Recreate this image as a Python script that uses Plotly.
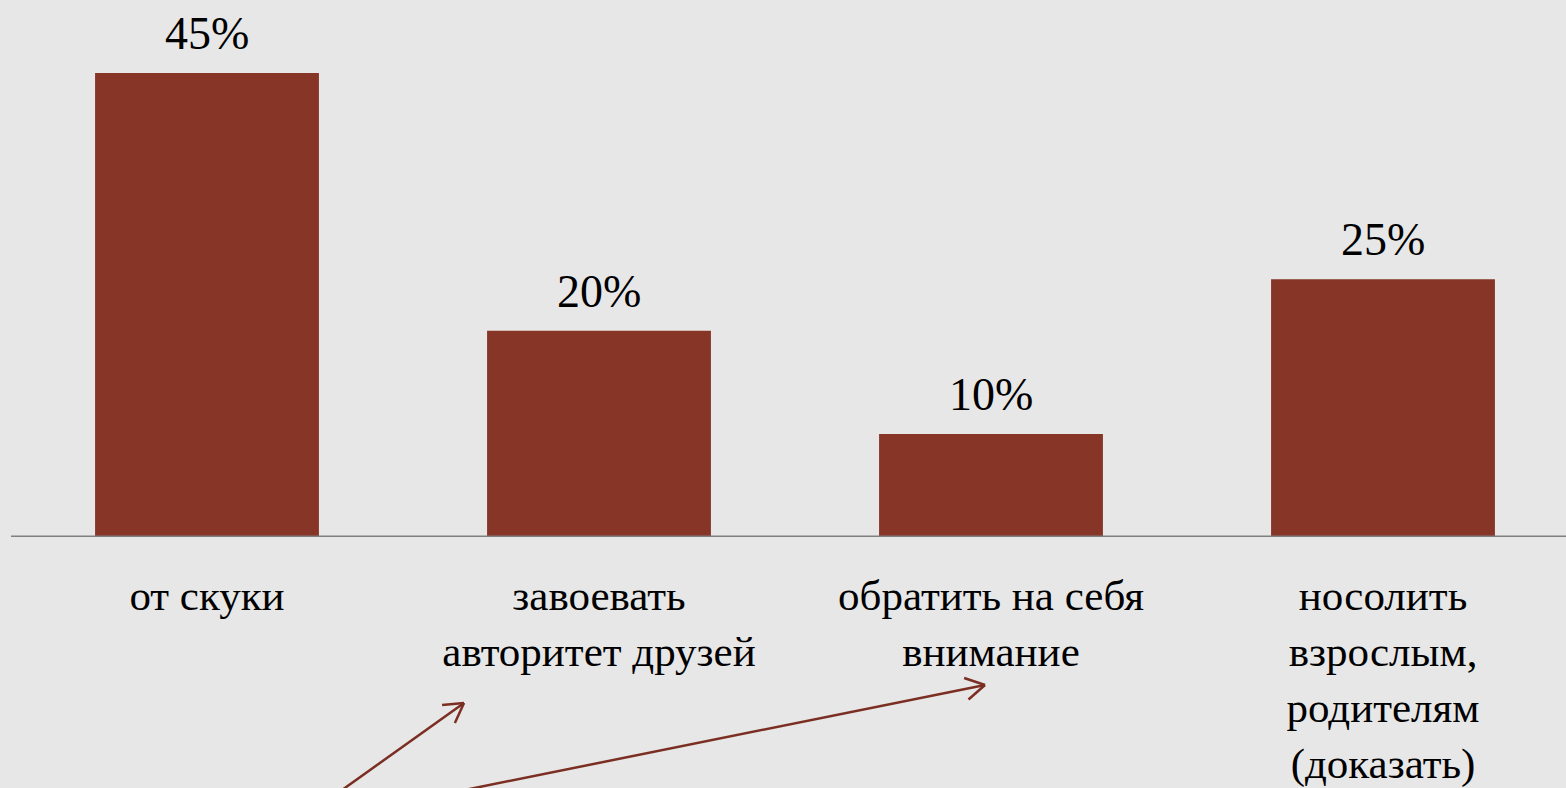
import plotly.graph_objects as go
import math

categories = ["от скуки", "завоевать<br>авторитет друзей", "обратить на себя<br>внимание",
              "носолить<br>взрослым,<br>родителям<br>(доказать)"]
values = [45, 20, 10, 25]
value_labels = ["45%", "20%", "10%", "25%"]

W, H = 1566, 788
L, R, T, B = 11, 0, 0, 251
pw, ph = W - L - R, H - T - B

xs = list(range(len(categories)))
fig = go.Figure(go.Bar(
    x=xs, y=values,
    marker=dict(color="#873526", line=dict(width=0)),
    width=0.571, hoverinfo="skip",
))

annotations = [dict(x=x, y=v, xref="x", yref="y", text=t, showarrow=False,
                    yanchor="bottom", yshift=12,
                    font=dict(family="Liberation Serif", size=46, color="#000000"))
               for x, v, t in zip(xs, values, value_labels)]

def px2paper(x, y):
    return (x - L) / pw, (H - B - y) / ph

shapes = []
arrow_col = "#7b2e22"
for (tx, ty), (hx, hy) in [((328, 800), (464, 703)), ((415, 800), (985, 685))]:
    x0, y0 = px2paper(tx, ty)
    x1, y1 = px2paper(hx, hy)
    shapes.append(dict(type="line", xref="paper", yref="paper", x0=x0, y0=y0, x1=x1, y1=y1,
                       line=dict(color=arrow_col, width=2.5)))
    ang = math.atan2(hy - ty, hx - tx)
    for d in (math.radians(150), math.radians(-150)):
        ex = hx + 22 * math.cos(ang + d)
        ey = hy + 22 * math.sin(ang + d)
        a0, b0 = px2paper(hx, hy)
        a1, b1 = px2paper(ex, ey)
        shapes.append(dict(type="line", xref="paper", yref="paper", x0=a0, y0=b0, x1=a1, y1=b1,
                           line=dict(color=arrow_col, width=2.5)))

shapes.append(dict(type="line", xref="paper", yref="y", x0=0, x1=1, y0=0, y1=0,
                   line=dict(color="#808080", width=3), layer="above"))

fig.update_layout(
    width=W, height=H,
    margin=dict(l=L, r=R, t=T, b=B, pad=0, autoexpand=False),
    paper_bgcolor="#e7e7e7", plot_bgcolor="#e7e7e7",
    showlegend=False,
    font=dict(family="Liberation Serif", color="#000000"),
    xaxis=dict(tickmode="array", tickvals=xs, ticktext=categories,
               range=[-0.5, -0.5 + pw / 392.0], showgrid=False, zeroline=False,
               showline=False, ticks="", tickfont=dict(size=43, family="Liberation Serif"),
               ticklabelstandoff=29, fixedrange=True, automargin=False),
    yaxis=dict(range=[0, ph / (464 / 45.0)], visible=False, showgrid=False, zeroline=False,
               fixedrange=True, automargin=False),
    shapes=shapes,
    annotations=annotations,
)

fig.write_html("out.html", config={"displayModeBar": False},
               post_script="document.body.style.margin='0px';document.body.style.background='#e7e7e7';document.body.style.overflow='hidden';")
